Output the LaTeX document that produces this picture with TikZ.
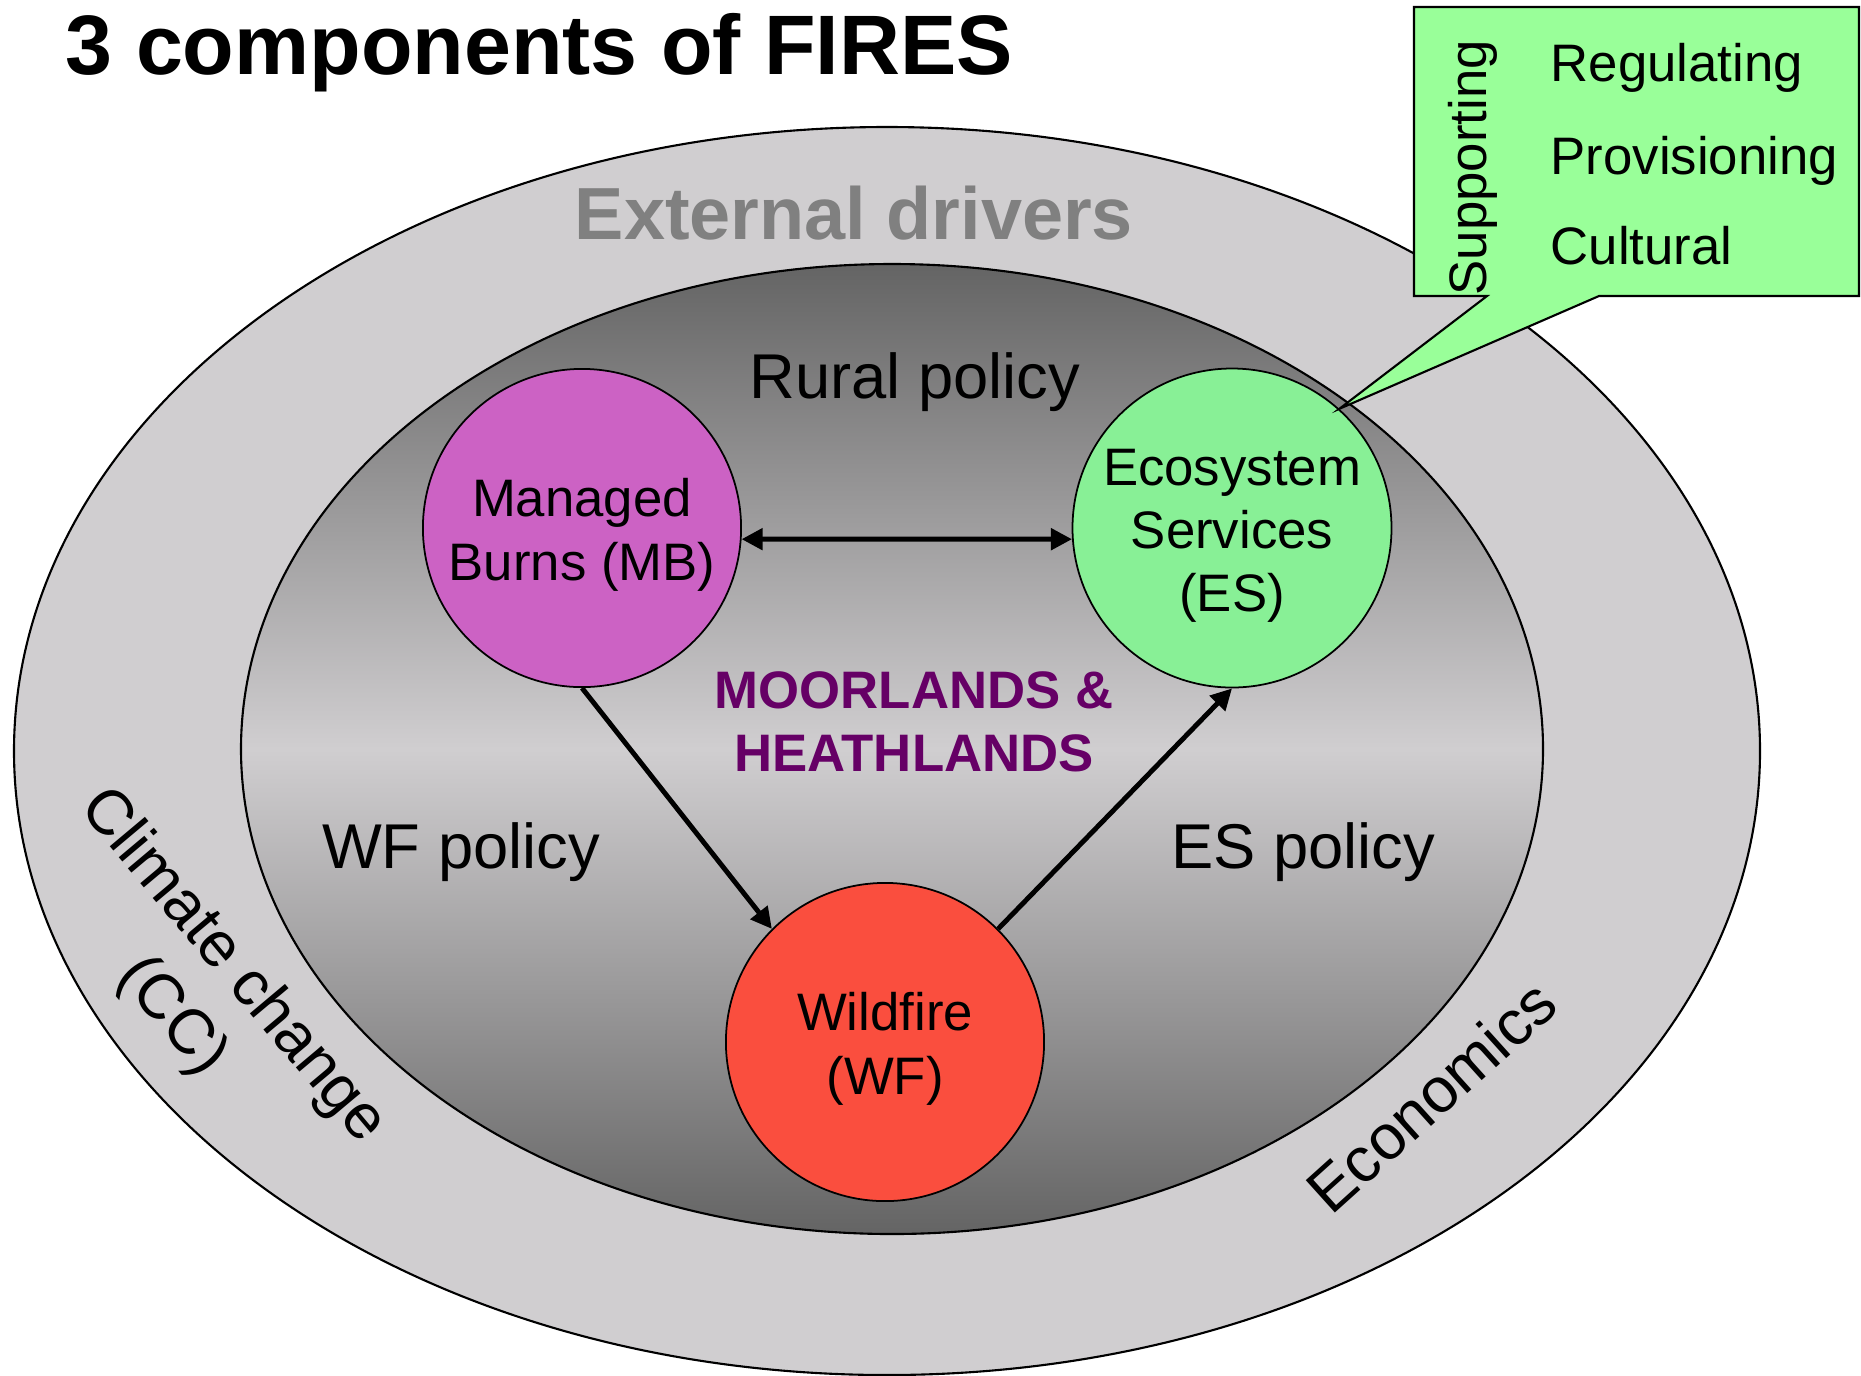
\documentclass[tikz,border=0pt]{standalone}
\usepackage{fontspec}
\setmainfont{Liberation Sans}
\usetikzlibrary{arrows.meta}

\definecolor{mbfill}{RGB}{204,98,196}
\definecolor{esfill}{RGB}{136,240,150}
\definecolor{wffill}{RGB}{250,78,62}
\definecolor{callfill}{RGB}{153,255,153}
\definecolor{ringfill}{RGB}{208,206,208}
\definecolor{coredark}{RGB}{100,100,100}
\definecolor{moorpurple}{RGB}{102,0,102}
\definecolor{drivergray}{RGB}{128,128,128}
\newcommand{\toppad}{\rule{0pt}{0.52cm}}

\begin{document}
\begin{tikzpicture}[x=0.01cm,y=-0.01cm,
    >={Triangle[length=6pt,width=6pt]},
    comp/.style={circle,draw,line width=0.5pt,minimum size=3.18cm,inner sep=0pt,align=center,font=\fontsize{15}{18}\selectfont},
    policy/.style={anchor=base,inner sep=0pt,font=\fontsize{18}{22}\selectfont},
    service/.style={anchor=base west,inner sep=0pt,font=\fontsize{15}{18}\selectfont},
    link/.style={line width=1.4pt}]
    \useasboundingbox (0,0) rectangle (1861,1375);
    \draw[line width=0.6pt,fill=ringfill] (887,751) ellipse [x radius=873,y radius=624];
    \draw[line width=0.6pt,top color=coredark,bottom color=coredark,middle color=ringfill] (892,749) ellipse [x radius=651,y radius=485];

    \node[anchor=base west,inner sep=0pt,font=\fontsize{24}{29}\selectfont\bfseries] (title) at (65,74) {3 components of FIRES};
    \node[anchor=base,inner sep=0pt,text=drivergray,font=\fontsize{21}{25}\selectfont\bfseries] (drivers) at (854,239) {External drivers};
    \node[policy] (rural) at (915,398) {Rural policy};
    \node[policy] (wfpol) at (461,868) {WF policy};
    \node[policy] (espol) at (1303,868) {ES policy};
    \node[inner sep=0pt,align=center,text=moorpurple,font=\fontsize{15}{18}\selectfont\bfseries] (moor) at (914,722) {MOORLANDS \&\\HEATHLANDS};
    \node[rotate=-50,inner sep=0pt,align=center,font=\fontsize{18}{22.5}\selectfont] (cc) at (202,992) {Climate change\\(CC)};
    \node[rotate=42,inner sep=0pt,font=\fontsize{18}{22}\selectfont] (econ) at (1431,1096) {Economics};

    \node[comp,fill=mbfill] (MB) at (582,528) {\toppad Managed\\Burns (MB)};
    \node[comp,fill=esfill] (ES) at (1232,528) {\toppad Ecosystem\\Services\\(ES)};
    \node[comp,fill=wffill] (WF) at (885,1042) {\toppad Wildfire\\(WF)};

    \draw[link,<->] (MB.-4) -- (ES.184);
    \draw[link,->] (MB.south) -- (WF.135);
    \draw[link,->] (WF.45) -- (ES.south);

    \draw[line width=0.6pt,fill=callfill] (1414,7) -- (1859,7) -- (1859,296) -- (1599,296) -- (ES.48) -- (1487,296) -- (1414,296) -- cycle;
    \node[rotate=90,anchor=base west,inner sep=0pt,font=\fontsize{15}{18}\selectfont] (supp) at (1486,296) {Supporting};
    \node[service] (reg) at (1550,81) {Regulating};
    \node[service] (prov) at (1550,174) {Provisioning};
    \node[service] (cult) at (1550,264) {Cultural};
\end{tikzpicture}
\end{document}
